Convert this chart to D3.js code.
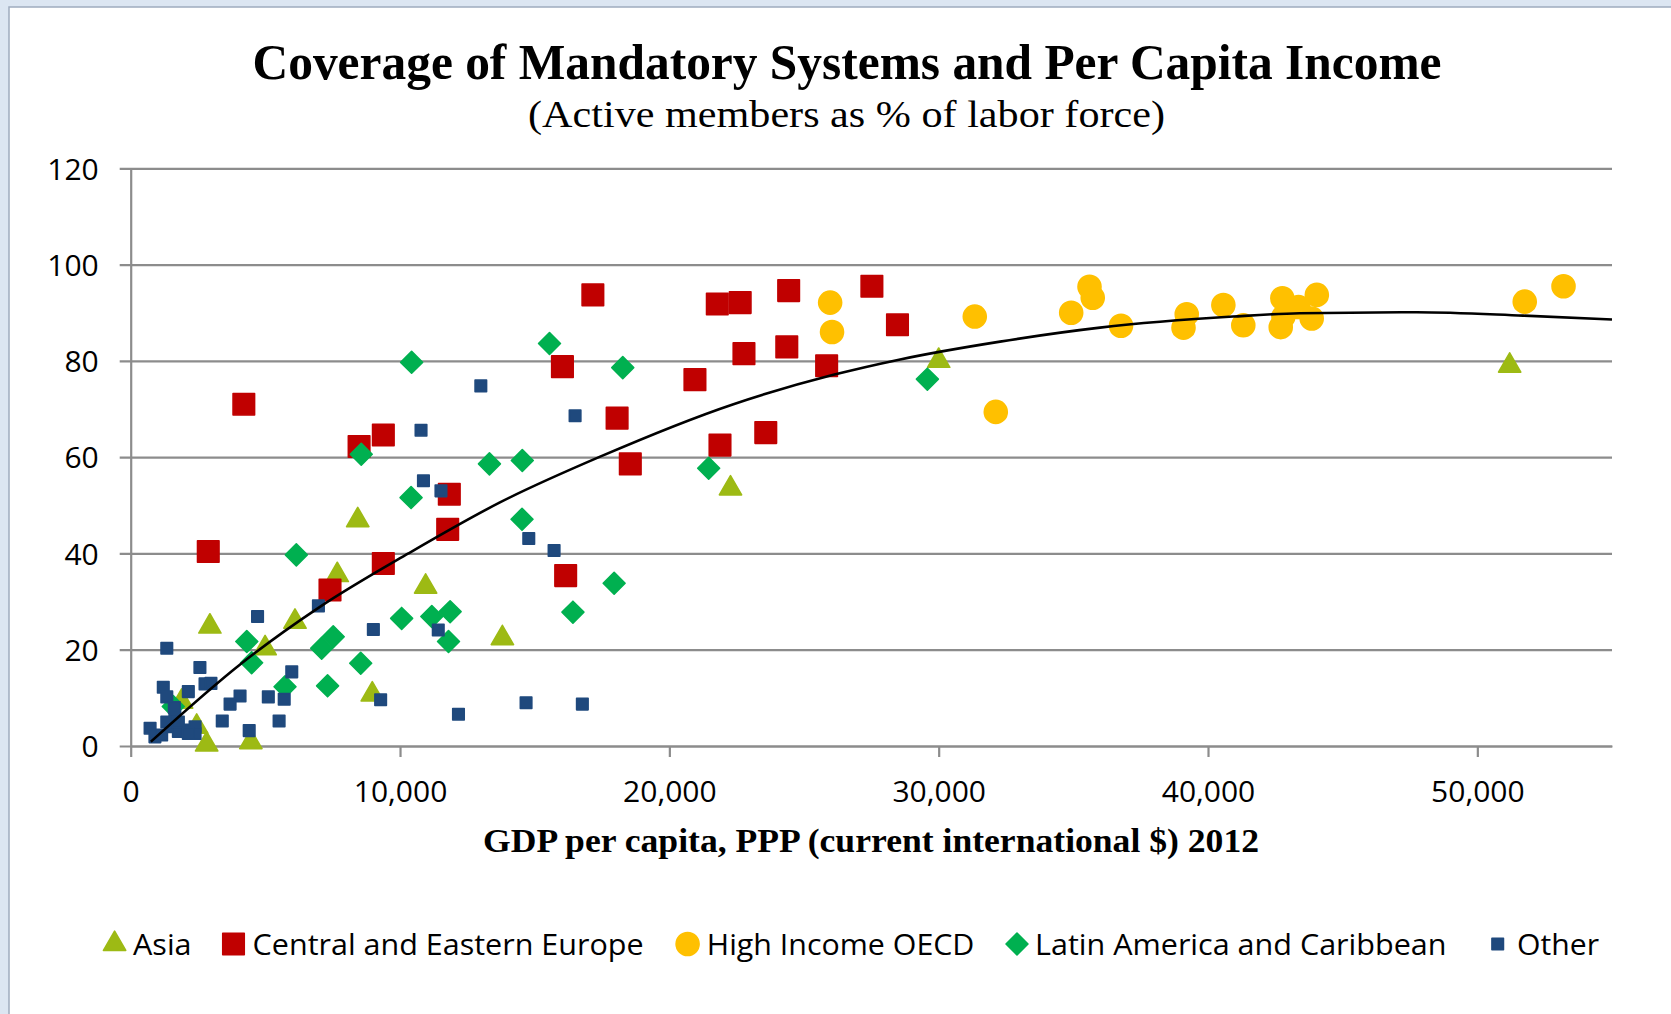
<!DOCTYPE html>
<html>
<head>
<meta charset="utf-8">
<script src="https://cdn.jsdelivr.net/npm/d3@7"></script>
<style>
  html, body { margin: 0; padding: 0; background: #dce6f2; overflow: hidden; }
</style>
</head>
<body>
<div id="chart"></div>
<script>
// GDP per capita PPP ($, 2012) vs active members as % of labor force, by region
const asiaPts = [[51200, 79], [30000, 80], [22270, 53.5], [13800, 22.4], [10950, 33.1], [8430, 46.9],
    [7670, 35.5], [8970, 10.7], [6100, 25.8], [4990, 20.3], [2940, 24.8], [2820, 0.3], [4460, 0.8],
    [1890, 9.2], [2450, 4.0]];

const ceePts = [[4200, 71.0], [2880, 40.4], [8480, 62.2], [9380, 64.6], [11830, 52.3], [11770, 45.0],
    [9380, 37.9], [7400, 32.4], [16150, 35.4], [18550, 58.6], [18060, 68.1], [20950, 76.1], [16030, 78.8],
    [21880, 62.5], [23580, 65.1], [22770, 81.5], [24360, 82.9], [25840, 79.0], [17160, 93.7], [21780, 91.8],
    [22630, 92.1], [24430, 94.6], [27520, 95.5], [28470, 87.5]];

const oecdPts = [[25970, 92.1], [26040, 86.0], [31340, 89.2], [32120, 69.4], [34920, 90.0], [35600, 95.4],
    [35720, 93.1], [36770, 87.3], [39210, 89.7], [39090, 86.9], [40570, 91.6], [41310, 87.4], [42760, 93.0],
    [42700, 87.0], [42800, 89.2], [43360, 91.2], [43850, 88.8], [44040, 93.7], [51760, 92.3], [53200, 95.5]];

const latamPts = [[10430, 79.7], [15550, 83.6], [18270, 78.6], [29580, 76.2], [21460, 57.7], [14540, 59.3],
    [13320, 58.6], [8560, 60.6], [10410, 51.6], [14530, 47.1], [6150, 39.7], [17950, 33.8], [16420, 27.8],
    [10060, 26.5], [11180, 26.9], [11860, 27.9], [11800, 21.7], [7520, 22.7], [7090, 20.3], [8540, 17.2],
    [7310, 12.5], [5730, 12.3], [4310, 21.7], [4490, 17.3], [1580, 8.2]];

const otherPts = [[13000, 74.8], [16500, 68.6], [10780, 65.6], [10870, 55.1], [11520, 53.0], [14780, 43.1],
    [15720, 40.6], [14680, 9.0], [16770, 8.7], [12170, 6.6], [9280, 9.6], [11420, 24.1], [9010, 24.2],
    [6970, 29.1], [4710, 26.9], [1340, 20.3], [2570, 16.3], [2760, 12.9], [2980, 13.0], [2140, 11.3],
    [1210, 12.2], [1340, 10.2], [5980, 15.4], [4060, 10.4], [3690, 8.7], [5110, 10.2], [5700, 9.7],
    [3400, 5.2], [5510, 5.2], [4400, 3.2], [1620, 8.0], [720, 3.7], [900, 1.9], [1150, 2.3], [1520, 4.0],
    [1770, 3.0], [2080, 3.3], [2390, 4.0], [2390, 2.6], [1640, 6.1], [1340, 5.0], [1770, 5.0], [2140, 2.6]];

// polynomial trend line
const trendPts = [[750, 0.9], [4120, 17.2], [6970, 28.7], [10310, 40.0], [13710, 50.6], [17430, 60.1],
    [22380, 71.0], [26090, 77.1], [28570, 80.3], [32280, 84.0], [35990, 86.9], [40930, 89.2],
    [43400, 89.9], [47750, 90.1], [51700, 89.4], [55000, 88.6]];

const seriesNames = ["Asia", "Central and Eastern Europe", "High Income OECD", "Latin America and Caribbean", "Other"];
const xTicks = [0, 10000, 20000, 30000, 40000, 50000];
const yTicks = [0, 20, 40, 60, 80, 100, 120];

const titleText = "Coverage of Mandatory Systems and Per Capita Income";
const subtitleText = "(Active members as % of labor force)";
const xTitleText = "GDP per capita, PPP (current international $) 2012";

const svg = d3.select("#chart").append("svg")
    .attr("width", 1671)
    .attr("height", 1014);

// chart frame
svg.append("rect")
    .attr("x", 9).attr("y", 7)
    .attr("width", 1700).attr("height", 1100)
    .attr("fill", "#fff")
    .attr("stroke", "#9eacbf")
    .attr("stroke-width", 1.5);

const x = d3.scaleLinear().domain([0, 55000]).range([130.7, 1612]);
const y = d3.scaleLinear().domain([0, 120]).range([746, 168.3]);

const sans = "'Open Sans', 'Noto Sans', sans-serif";
const serif = "'Liberation Serif', 'Times New Roman', serif";
const gridColor = "#8c8c8c";

// squeeze text to the width it has in the picture
function fitWidth(sel, w) {
    sel.attr("textLength", w).attr("lengthAdjust", "spacingAndGlyphs");
}

// titles
svg.append("text")
    .attr("x", 847).attr("y", 79)
    .attr("text-anchor", "middle")
    .style("font-family", serif).style("font-weight", "bold").style("font-size", "50px")
    .text(titleText)
    .call(fitWidth, 1189);

svg.append("text")
    .attr("x", 846.5).attr("y", 127)
    .attr("text-anchor", "middle")
    .style("font-family", serif).style("font-size", "38px")
    .text(subtitleText)
    .call(fitWidth, 637);

// Y axis + gridlines
const yAxis = svg.append("g")
    .attr("transform", `translate(${x(0)},0)`)
    .call(d3.axisLeft(y).tickValues(yTicks).tickSizeInner(-(x(55000) - x(0))).tickSizeOuter(0).tickPadding(32));
yAxis.selectAll(".tick line")
    .attr("x1", -11)
    .attr("stroke", gridColor).attr("stroke-width", 2.2);
yAxis.select(".domain").attr("stroke", gridColor).attr("stroke-width", 2.2);
yAxis.selectAll(".tick text")
    .attr("dy", "0.36em")
    .style("font-family", sans).style("font-size", "30px").attr("fill", "#000");

// X axis
const xAxis = svg.append("g")
    .attr("transform", `translate(0,${y(0)})`)
    .call(d3.axisBottom(x).tickValues(xTicks).tickSizeInner(11).tickSizeOuter(0)
        .tickFormat(d3.format(",")));
xAxis.select(".domain").attr("stroke", gridColor).attr("stroke-width", 2.2);
xAxis.selectAll(".tick line").attr("stroke", gridColor).attr("stroke-width", 2.2);
xAxis.selectAll(".tick text")
    .attr("y", 56).attr("dy", null)
    .style("font-family", sans).style("font-size", "30px").attr("fill", "#000");

svg.append("text")
    .attr("x", 871).attr("y", 852)
    .attr("text-anchor", "middle")
    .style("font-family", serif).style("font-weight", "bold").style("font-size", "34px")
    .text(xTitleText)
    .call(fitWidth, 776);

// marker styles per series
const styles = [
    { pts: asiaPts, color: "#9dba14", type: d3.symbolTriangle, size: 215, rot: 0 },
    { pts: ceePts, color: "#c00000", type: d3.symbolSquare, size: 462, rot: 0 },
    { pts: oecdPts, color: "#ffc000", type: d3.symbolCircle, size: 415, rot: 0 },
    { pts: latamPts, color: "#00b050", type: d3.symbolSquare, size: 240, rot: 45 },
    { pts: otherPts, color: "#1f497d", type: d3.symbolSquare, size: 132, rot: 0 }
];

styles.forEach((s, i) => {
    const sym = d3.symbol().type(s.type).size(s.size);
    svg.append("g").attr("class", "series-" + i)
        .selectAll("path")
        .data(s.pts)
        .join("path")
        .attr("d", sym)
        .attr("transform", d => `translate(${x(d[0])},${y(d[1])}) rotate(${s.rot})`)
        .attr("fill", s.color)
        .attr("stroke", s.color)
        .attr("stroke-width", 1.6)
        .attr("stroke-linejoin", "round");
});

// trend line
const line = d3.line()
    .x(d => x(d[0]))
    .y(d => y(d[1]))
    .curve(d3.curveMonotoneX);

svg.append("path")
    .datum(trendPts)
    .attr("d", line)
    .attr("fill", "none")
    .attr("stroke", "#000")
    .attr("stroke-width", 2.6);

// legend
const legendMarkX = [114.6, 233.5, 687.6, 1017, 1497.7];
const legendTextX = [133, 252.6, 706.8, 1035, 1517];
const legendTextW = [58.6, 391, 267.6, 411.5, 82];

const legend = svg.append("g").attr("class", "legend");
styles.forEach((s, i) => {
    const sym = d3.symbol().type(s.type).size(s.size);
    legend.append("path")
        .attr("d", sym)
        .attr("transform", `translate(${legendMarkX[i]},944) rotate(${s.rot})`)
        .attr("fill", s.color)
        .attr("stroke", s.color)
        .attr("stroke-width", 1.6)
        .attr("stroke-linejoin", "round");
    legend.append("text")
        .attr("x", legendTextX[i]).attr("y", 955)
        .style("font-family", sans).style("font-size", "30px")
        .text(seriesNames[i])
        .call(fitWidth, legendTextW[i]);
});
</script>
</body>
</html>
